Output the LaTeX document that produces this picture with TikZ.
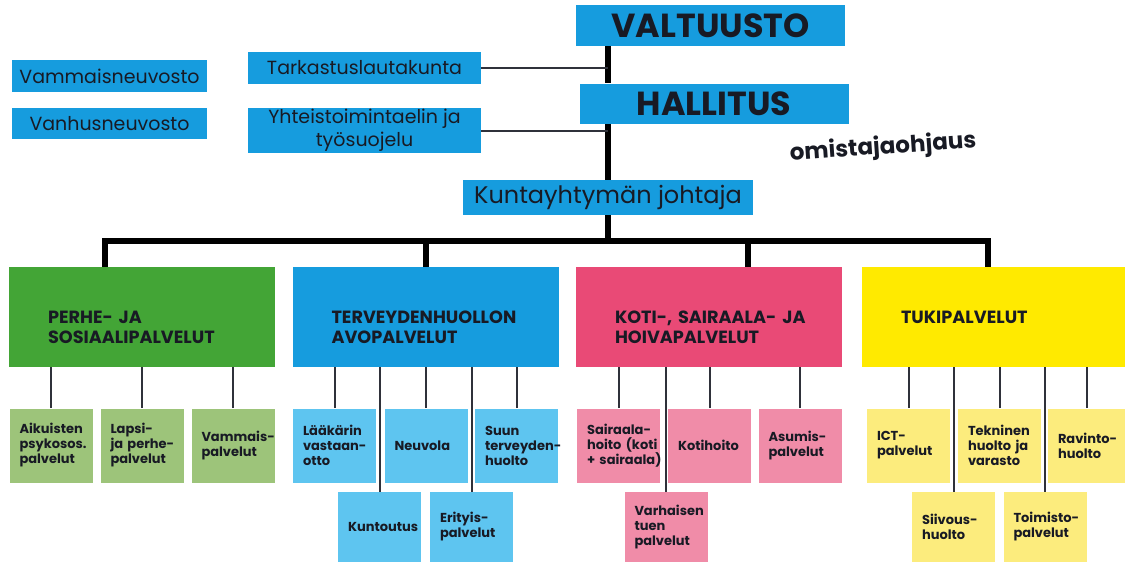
\documentclass[tikz,border=0pt]{standalone}
\usepackage{fontspec}
\setmainfont{Poppins}
\usepackage{xcolor}
\usepackage{tikz}
\usetikzlibrary{positioning, calc}

\definecolor{topblue}{RGB}{22,156,222}
\definecolor{subblue}{RGB}{94,197,240}
\definecolor{biggreen}{RGB}{67,165,54}
\definecolor{subgreen}{RGB}{157,196,122}
\definecolor{bigpink}{RGB}{233,74,118}
\definecolor{subpink}{RGB}{240,140,168}
\definecolor{bigyellow}{RGB}{255,234,0}
\definecolor{subyellow}{RGB}{252,236,125}
\definecolor{ink}{RGB}{24,26,36}

% no breaks inside the short unit names
\hyphenpenalty=10000
\exhyphenpenalty=10000

\begin{document}
\begin{tikzpicture}[
    x=0.75pt, y=-0.75pt,
    head/.style={fill=topblue, text=ink, inner sep=0pt, align=center,
                 font=\fontsize{25pt}{28pt}\selectfont\bfseries,
                 minimum width=201.75pt, minimum height=30.75pt},
    unit/.style={fill=topblue, text=ink, inner sep=0pt, align=center,
                 font=\fontsize{14.25pt}{17pt}\selectfont,
                 minimum height=24pt},
    area/.style={inner xsep=29.25pt, inner ysep=0pt, align=left,
                 text width=141pt, minimum height=75pt, text=ink,
                 font=\fontsize{13.25pt}{15pt}\selectfont\bfseries},
    low/.style={execute at begin node={\rule{0pt}{24.5pt}}},
    sub/.style={inner xsep=7.5pt, inner ysep=0pt, align=left,
                text width=47.25pt, minimum height=55.5pt, text=ink,
                font=\fontsize{9.75pt}{11.25pt}\selectfont\bfseries},
    spine/.style={line width=4.5pt, black},
    link/.style={line width=1.5pt, ink!90},
    stub/.style={line width=1.5pt, ink!90},
]
\useasboundingbox (0,0) rectangle (1125,562);

% Governance
\node[head] (valt) at (710.5, 25.5) {VALTUUSTO};
\node[head, minimum height=30pt] (hall) at (714, 103.5) {HALLITUS};
\node[unit, minimum width=174.75pt] (tark) at (364.5, 68) {Tarkastuslautakunta};
\node[unit, minimum width=174.75pt, minimum height=33.75pt] (yht) at (364.5, 130.5)
    {Yhteistoimintaelin ja\\työsuojelu};
\node[unit, minimum width=146.25pt] (vamm) at (109.5, 76) {Vammaisneuvosto};
\node[unit, minimum width=146.25pt, minimum height=23.25pt] (vanh) at (109.5, 123.5) {Vanhusneuvosto};
\node[unit, minimum width=217.5pt, minimum height=26.25pt,
      font=\fontsize{18pt}{21pt}\selectfont] (joht) at (608, 197.5) {Kuntayhtymän johtaja};
\node[text=ink, rotate=4, font=\fontsize{17.25pt}{20pt}\selectfont\bfseries]
    (omis) at (883, 148) {omistajaohjaus};

\draw[spine] (valt.south -| joht) -- (hall.north -| joht);
\draw[spine] (hall.south -| joht) -- (joht.north);
\draw[link] (tark.east) -- (tark.east -| joht);
\draw[link] (yht.east) -- (yht.east -| joht);

% Service areas
\node[area, low, fill=biggreen] (perhe) at (142, 317) {PERHE-~JA\\SOSIAALIPALVELUT};
\node[area, low, fill=topblue] (avo) at (425.5, 317) {TERVEYDENHUOLLON\\AVOPALVELUT};
\node[area, low, fill=bigpink] (koti) at (709, 317) {KOTI-,~SAIRAALA-~JA\\HOIVAPALVELUT};
\node[area, fill=bigyellow, text width=138.75pt] (tuki) at (993.5, 317) {TUKIPALVELUT};

\coordinate (bar) at (608, 241);
\draw[spine] (joht.south) -- (bar);
\draw[spine] ([xshift=-27.75pt]perhe.north) |- ([xshift=-4.125pt]tuki.north |- bar)
    -- ([xshift=-4.125pt]tuki.north);
\draw[spine] (avo.north) -- (avo.north |- bar);
\draw[spine] ([xshift=29.25pt]koti.north) -- ([xshift=29.25pt]koti.north |- bar);

% Units, first row
\node[sub, fill=subgreen] (aik) at (51, 445.5) {Aikuisten\\psykosos.\\palvelut};
\node[sub, fill=subgreen] (lap) at (142, 445.5) {Lapsi-\\ja~perhe-\\palvelut};
\node[sub, fill=subgreen] (vps) at (233, 445.5) {Vammais-\\palvelut};
\node[sub, fill=subblue] (laak) at (334.5, 445.5) {Lääkärin\\vastaan-\\otto};
\node[sub, fill=subblue] (neuv) at (426, 445.5) {Neuvola};
\node[sub, fill=subblue] (suun) at (516.5, 445.5) {Suun\\terveyden-\\huolto};
\node[sub, fill=subpink] (sair) at (618.5, 445.5) {Sairaala-\\hoito~(koti\\+~sairaala)};
\node[sub, fill=subpink] (koth) at (709.5, 445.5) {Kotihoito};
\node[sub, fill=subpink] (asum) at (800, 445.5) {Asumis-\\palvelut};
\node[sub, fill=subyellow] (ict) at (908.5, 445.5) {ICT-\\palvelut};
\node[sub, fill=subyellow] (tekn) at (999.5, 445.5) {Tekninen\\huolto~ja\\varasto};
\node[sub, fill=subyellow, text width=42.75pt] (ravi) at (1086.5, 445.5) {Ravinto-\\huolto};

% Units, second row
\node[sub, fill=subblue, minimum height=52.5pt] (kunt) at (379.5, 527) {Kuntoutus};
\node[sub, fill=subblue, minimum height=52.5pt] (erit) at (471.5, 527) {Erityis-\\palvelut};
\node[sub, fill=subpink, minimum height=52.5pt] (varh) at (666, 527) {Varhaisen\\tuen\\palvelut};
\node[sub, fill=subyellow, minimum height=52.5pt] (siiv) at (953.5, 527) {Siivous-\\huolto};
\node[sub, fill=subyellow, minimum height=52.5pt] (toim) at (1045, 527) {Toimisto-\\palvelut};

\foreach \u/\a in {aik/perhe, lap/perhe, vps/perhe, laak/avo, neuv/avo, suun/avo,
                   kunt/avo, erit/avo, sair/koti, koth/koti, asum/koti, varh/koti,
                   ict/tuki, tekn/tuki, ravi/tuki, siiv/tuki, toim/tuki}
    \draw[stub] (\u.north) -- (\u.north |- \a.south);
\end{tikzpicture}
\end{document}
